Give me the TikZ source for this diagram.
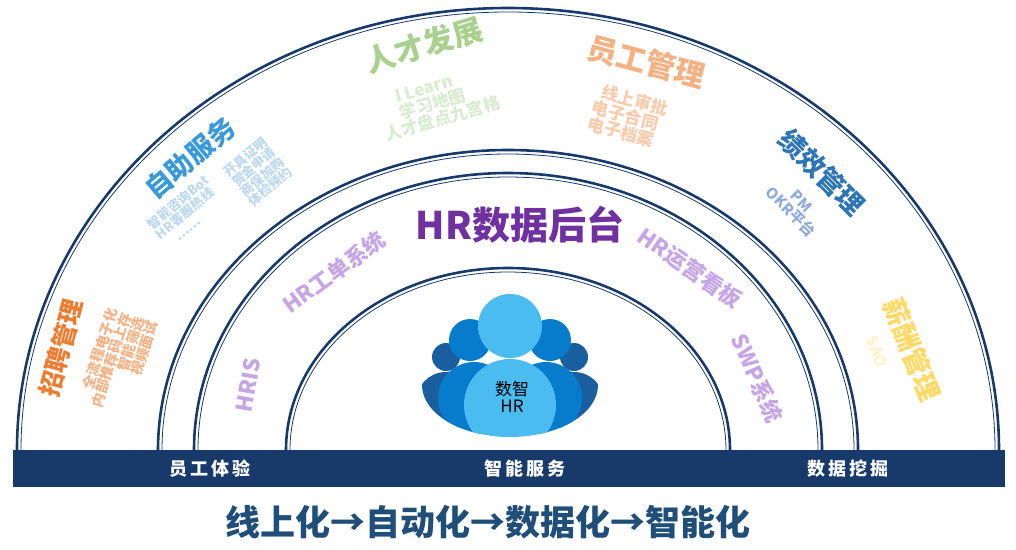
\documentclass[tikz,border=0pt]{standalone}
\usepackage{fontspec}
\setmainfont{Noto Sans CJK SC}
\usetikzlibrary{positioning}
\definecolor{navy}{HTML}{173A6B}
\definecolor{zhuBlue}{HTML}{3A9AD9}
\definecolor{zhuSub}{HTML}{BCD8F0}
\definecolor{fazhan}{HTML}{A9D18E}
\definecolor{fazhanSub}{HTML}{D8ECD0}
\definecolor{yuangong}{HTML}{F4B183}
\definecolor{yuangongSub}{HTML}{F8CBAD}
\definecolor{jixiao}{HTML}{2E75B6}
\definecolor{jixiaoSub}{HTML}{8FAADC}
\definecolor{xinchou}{HTML}{FFD966}
\definecolor{xinchouSub}{HTML}{FFF2CC}
\definecolor{zhaopin}{HTML}{ED7D31}
\definecolor{zhaopinSub}{HTML}{F4B183}
\definecolor{backend}{HTML}{7030A0}
\definecolor{lavender}{HTML}{C6A5E6}
\definecolor{slogan}{HTML}{1F4E79}
\definecolor{pplDark}{HTML}{195FA0}
\definecolor{pplMid}{HTML}{087CCC}
\definecolor{pplLight}{HTML}{4BBCF0}
\newcommand{\fsz}[1]{\fontsize{#1}{#1}\selectfont}

\begin{document}
\begin{tikzpicture}[x=1pt,y=-1pt,
        ring/.style={draw=navy, line width=2.6pt},
        ringthin/.style={draw=navy, line width=0.8pt},
        title/.style={font=\bfseries, inner sep=0pt, align=center},
        sub/.style={font=\bfseries, inner sep=0pt, align=center},
        barlabel/.style={text=white, font=\fsz{18}\bfseries, inner sep=0pt},
    ]
        \useasboundingbox (0,0) rectangle (1016,549);

        % rings
        \foreach \rx/\ry in {491/442, 350/300, 314/277, 222/182} {
            \draw[ring] (508+\rx,450) arc[start angle=0, end angle=180, x radius=\rx pt, y radius=\ry pt];
            \draw[ringthin] (508+\rx-4,450) arc[start angle=0, end angle=180, x radius=\rx pt-4pt, y radius=\ry pt-4pt];
        }

        % bar
        \fill[navy] (13,450) rectangle (1005,487);
        \node (tiyan) [barlabel] at (210,469) {员\,工\,体\,验};
        \node (fuwu) [barlabel] at (525,469) {智\,能\,服\,务};
        \node (wajue) [barlabel] at (848,469) {数\,据\,挖\,掘};

        % outer ring
        \node (zizhu) [title,text=zhuBlue,font=\fsz{27}\bfseries,rotate=40] at (190,158) {自助服务};
        \node (zizhuA) [sub,text=zhuSub,font=\fsz{13}\bfseries,rotate=40,align=left] at (186,212) {智能咨询Bot\\HR客服热线\\\quad……};
        \node (zizhuB) [sub,text=zhuSub,font=\fsz{13}\bfseries,rotate=40,align=left] at (258,172) {开具证明\\贺金申请\\商保加购\\体检预约};

        \node (fazhan) [title,text=fazhan,font=\fsz{30}\bfseries,rotate=17] at (424,45) {人才发展};
        \node (fazhanA) [sub,text=fazhanSub,font=\fsz{17}\bfseries,rotate=16,align=left] at (438,103) {\hspace*{1.2em}I Learn\\\hspace*{1.2em}学习地图\\人才盘点九宫格};

        \node (yuangong) [title,text=yuangong,font=\fsz{30}\bfseries,rotate=-15] at (646,62) {员工管理};
        \node (yuangongA) [sub,text=yuangongSub,font=\fsz{17}\bfseries,rotate=-15,align=left] at (628,116) {\hspace*{0.3em}线上审批\\电子合同\\电子档案};

        \node (jixiao) [title,text=jixiao,font=\fsz{27}\bfseries,rotate=-45] at (822,172) {绩效管理};
        \node (jixiaoA) [sub,text=jixiaoSub,font=\fsz{15}\bfseries,rotate=-45] at (796,207) {PM\\OKR平台};

        \node (xinchou) [title,text=xinchou,font=\fsz{27}\bfseries,rotate=-68] at (912,350) {薪酬管理};
        \node (xinchouA) [sub,text=xinchouSub,font=\fsz{16}\bfseries,rotate=-68] at (877,352) {SAO};

        \node (zhaopin) [title,text=zhaopin,font=\fsz{25}\bfseries,rotate=75] at (61,348) {招聘管理};
        \node (zhaopinA) [sub,text=zhaopinSub,font=\fsz{14}\bfseries,rotate=72,align=right] at (118,362) {全流程电子化\\内部推荐码上存\\智能筛选\\视频面试};

        % middle ring
        \node (backend) [title,text=backend,font=\fsz{38}\bfseries] at (520,225) {HR数据后台};
        \node (gongdan) [title,text=lavender,font=\fsz{22}\bfseries,rotate=36] at (334,272) {HR工单系统};
        \node (hris) [title,text=lavender,font=\fsz{22}\bfseries,rotate=80] at (248,385) {HRIS};
        \node (kanban) [title,text=lavender,font=\fsz{22}\bfseries,rotate=-35] at (690,268) {HR运营看板};
        \node (swp) [title,text=lavender,font=\fsz{22}\bfseries,rotate=-66] at (757,378) {SWP系统};

        % people icon
        \begin{scope}
            \clip (510,385) ellipse [x radius=88pt, y radius=52pt];
            \fill[pplDark] (446,402) circle[radius=30pt] (574,402) circle[radius=30pt];
            \fill[pplMid] (474,398) circle[radius=36pt] (546,398) circle[radius=36pt];
            \fill[pplLight] (510,405) circle[radius=46pt];
        \end{scope}
        \fill[pplDark] (446,357) circle[radius=14pt] (574,357) circle[radius=14pt];
        \fill[pplMid] (470,340) circle[radius=21pt] (550,340) circle[radius=21pt];
        \fill[pplLight] (510,326) circle[radius=32pt];
        \node (shuzhi) [font=\fsz{17}, align=center, inner sep=0pt] at (512,397) {数智\\HR};

        % slogan
        \node (slogan) [text=slogan,font=\fsz{35}\bfseries,inner sep=0pt] at (488,522) {线上化→自动化→数据化→智能化};
    \end{tikzpicture}
\end{document}
